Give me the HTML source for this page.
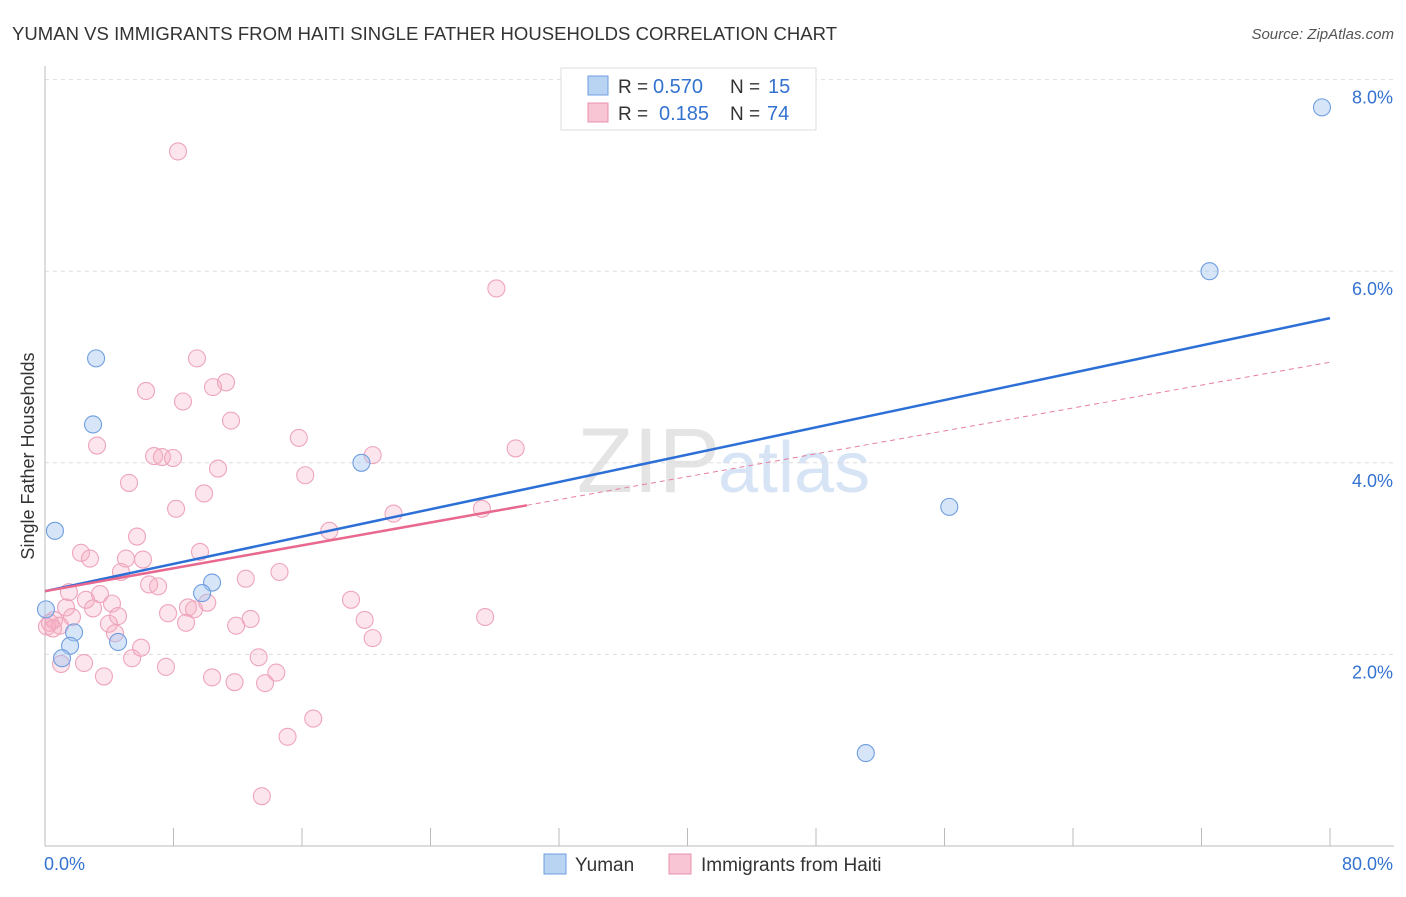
<!DOCTYPE html>
<html><head><meta charset="utf-8"><style>
body{margin:0;background:#fff;font-family:"Liberation Sans",sans-serif}
svg text{font-family:"Liberation Sans",sans-serif}
</style></head><body>
<svg width="1406" height="892" id="chart">
<text x="12" y="40" font-size="18.5" fill="#333" textLength="825">YUMAN VS IMMIGRANTS FROM HAITI SINGLE FATHER HOUSEHOLDS CORRELATION CHART</text>
<text x="1394" y="39" font-size="15" fill="#555" text-anchor="end" font-style="italic">Source: ZipAtlas.com</text>
<text x="720" y="492" font-size="92" fill="#e4e4e4" text-anchor="end" font-family="Liberation Serif">ZIP</text>
<text x="718" y="492" font-size="72" fill="#d6e4f5">atlas</text>
<g id="grid"></g>
<g id="marks"></g>
<text transform="translate(34,456) rotate(-90)" font-size="18" fill="#333" text-anchor="middle">Single Father Households</text>
<g>
<rect x="561" y="68" width="255" height="62" fill="#fff" stroke="#ddd"/>
<rect x="588" y="76" width="20" height="19" fill="#b9d3f3" stroke="#6f9ee0"/>
<text x="618" y="93" font-size="19" fill="#333">R =</text>
<text x="653" y="93" font-size="20" fill="#3472d0">0.570</text>
<text x="730" y="93" font-size="19" fill="#333">N =</text>
<text x="768" y="93" font-size="20" fill="#3472d0">15</text>
<rect x="588" y="103" width="20" height="19" fill="#f8c5d4" stroke="#e890aa"/>
<text x="618" y="120" font-size="19" fill="#333">R =</text>
<text x="659" y="120" font-size="20" fill="#3472d0">0.185</text>
<text x="730" y="120" font-size="19" fill="#333">N =</text>
<text x="767" y="120" font-size="20" fill="#3472d0">74</text>
</g>
<g>
<rect x="544" y="854" width="22" height="20" fill="#b9d3f3" stroke="#6f9ee0"/>
<text x="575" y="871" font-size="19" fill="#333">Yuman</text>
<rect x="669" y="854" width="22" height="20" fill="#f8c5d4" stroke="#e890aa"/>
<text x="701" y="871" font-size="19" fill="#333">Immigrants from Haiti</text>
</g>
</svg>
<script>
const yTicks=[2,4,6,8];
const xTickLabels=["0.0%","80.0%"];
const blueX=[79.5,72.5,56.3,51.1,19.7,3.18,2.99,0.62,10.4,9.78,1.81,1.56,4.55,1.06,0.06];
const blueY=[7.71,6.00,3.54,0.97,4.00,5.09,4.40,3.29,2.75,2.64,2.23,2.09,2.13,1.96,2.47];
const pinkX=[8.28,28.1,9.46,11.27,10.46,6.29,8.59,11.58,15.8,3.24,29.3,20.4,6.79,7.28,7.97,10.77,16.2,5.23,9.9,8.16,21.7,27.2,17.7,5.73,2.24,9.65,2.8,5.04,6.1,4.73,14.6,12.5,6.48,7.04,1.49,3.42,2.55,19.05,10.1,4.17,1.31,2.99,8.9,9.28,7.66,4.55,1.68,19.9,27.4,12.8,0.56,8.78,3.98,11.9,0.12,0.93,4.36,20.4,5.98,5.42,13.3,2.43,1.0,7.53,14.4,3.67,10.4,11.8,13.7,16.7,15.1,13.5,0.3,0.5];
const pinkY=[7.25,5.82,5.09,4.84,4.79,4.75,4.64,4.44,4.26,4.18,4.15,4.08,4.07,4.06,4.05,3.94,3.87,3.79,3.68,3.52,3.47,3.52,3.29,3.23,3.06,3.07,3.00,3.00,2.99,2.86,2.86,2.79,2.73,2.71,2.65,2.63,2.57,2.57,2.54,2.53,2.49,2.48,2.49,2.47,2.43,2.40,2.39,2.36,2.39,2.37,2.36,2.33,2.32,2.30,2.29,2.30,2.22,2.17,2.07,1.96,1.97,1.91,1.90,1.87,1.81,1.77,1.76,1.71,1.70,1.33,1.14,0.52,2.33,2.27];
const blueLine=[2.66,5.51];
const pinkLine=[2.66,5.05];
const pinkSolidEnd=30;
const NS='http://www.w3.org/2000/svg';
const sx=v=>45+v/80*1285;
const sy=v=>846-v*95.8;
function mk(tag,attrs,parent){const e=document.createElementNS(NS,tag);for(const k in attrs)e.setAttribute(k,attrs[k]);parent.appendChild(e);return e;}
const grid=document.getElementById('grid'),marks=document.getElementById('marks');
yTicks.forEach(t=>{
 const l=mk('line',{x1:45,x2:1394,y1:sy(t),y2:sy(t),stroke:'#ddd','stroke-dasharray':'4,4'},grid);
 
 
 const tx=mk('text',{x:1393,y:sy(t)+24,'font-size':18,fill:'#3472d0','text-anchor':'end'},grid);
 tx.textContent=t.toFixed(1)+'%';
 
 
});
const ax=mk('line',{x1:45,x2:45,y1:66,y2:846,stroke:'#bbb'},grid);


const bx=mk('line',{x1:45,x2:1394,y1:846,y2:846,stroke:'#bbb'},grid);


for(let i=0;i<=10;i++){
 const t=mk('line',{x1:sx(i*8),x2:sx(i*8),y1:828,y2:846,stroke:'#bbb'},grid);
 
 
}
const xl0=mk('text',{x:44,y:870,'font-size':18,fill:'#3472d0'},grid);xl0.textContent=xTickLabels[0];


const xl1=mk('text',{x:1393,y:870,'font-size':18,fill:'#3472d0','text-anchor':'end'},grid);xl1.textContent=xTickLabels[1];


pinkX.forEach((x,i)=>{
 const c=mk('circle',{cx:sx(x),cy:sy(pinkY[i]),r:8.5,fill:'rgba(244,170,192,0.3)',stroke:'#eea5bb','stroke-width':1.1},marks);
 
 
});
blueX.forEach((x,i)=>{
 const c=mk('circle',{cx:sx(x),cy:sy(blueY[i]),r:8.5,fill:'rgba(165,198,240,0.45)',stroke:'#6f9ee0','stroke-width':1.1},marks);
 
 
});
const pl=v=>pinkLine[0]+(pinkLine[1]-pinkLine[0])*v/80;
const bl=v=>blueLine[0]+(blueLine[1]-blueLine[0])*v/80;
const pd=mk('line',{x1:sx(pinkSolidEnd),y1:sy(pl(pinkSolidEnd)),x2:sx(80),y2:sy(pl(80)),stroke:'#e77fa0','stroke-width':1,'stroke-dasharray':'5,4'},marks);


const blueT=mk('line',{x1:sx(0),y1:sy(bl(0)),x2:sx(80),y2:sy(bl(80)),stroke:'#2c6fd6','stroke-width':2.5},marks);


const pinkT=mk('line',{x1:sx(0),y1:sy(pl(0)),x2:sx(pinkSolidEnd),y2:sy(pl(pinkSolidEnd)),stroke:'#e8688f','stroke-width':2.5},marks);


</script>
</body></html>
